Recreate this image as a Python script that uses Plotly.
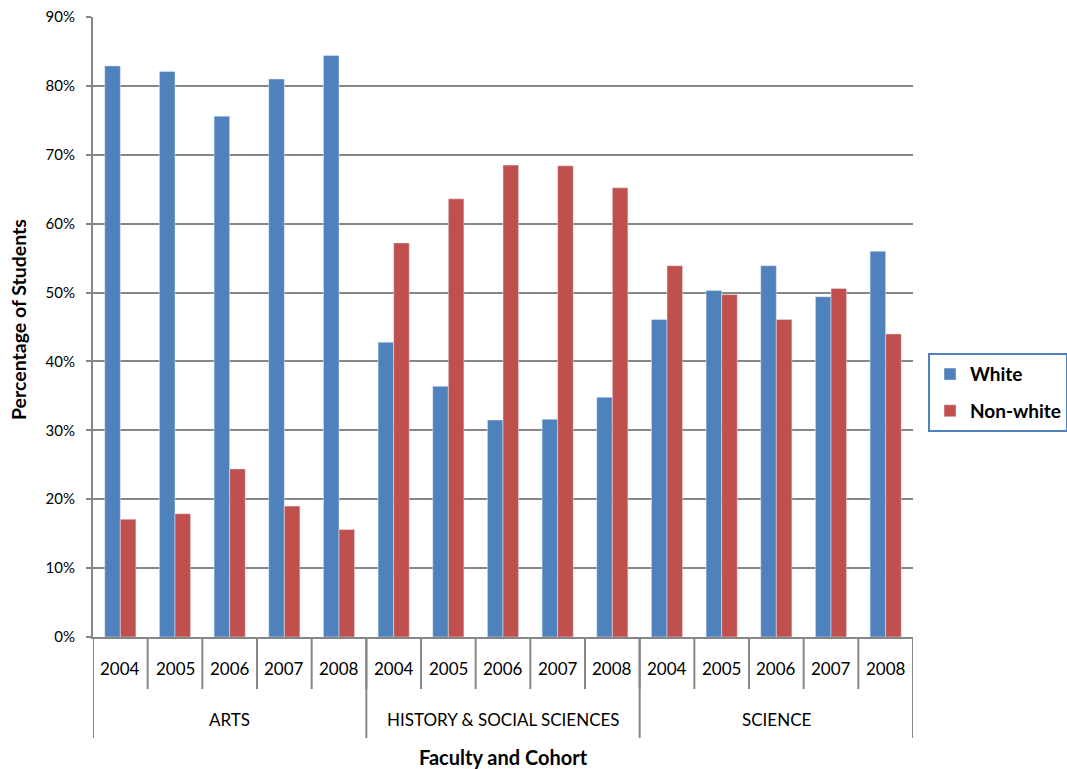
import plotly.graph_objects as go

faculties = ["ARTS", "HISTORY & SOCIAL SCIENCES", "SCIENCE"]
years = ["2004", "2005", "2006", "2007", "2008"]

white = [82.9, 82.1, 75.6, 81.0, 84.4,
         42.8, 36.4, 31.5, 31.6, 34.8,
         46.1, 50.3, 53.9, 49.4, 56.0]
non_white = [17.1, 17.9, 24.4, 19.0, 15.6,
             57.2, 63.6, 68.5, 68.4, 65.2,
             53.9, 49.7, 46.1, 50.6, 44.0]

n_years = len(years)
n_cats = len(faculties) * n_years
xpos = list(range(n_cats))

FONT = "Lato"
GRID = "#868686"
PLOT_W = 820  # plot-area width in px
PLOT_H = 620  # plot-area height in px, used to place the two-level axis below it

def below(px):
    return -px / PLOT_H

fig = go.Figure()
fig.add_trace(go.Bar(x=xpos, y=white, name="White", marker_color="#4F81BD",
                     legendgroup="w"))
fig.add_trace(go.Bar(x=xpos, y=non_white, name="Non-white", marker_color="#C0504D",
                     legendgroup="n"))

fig.update_layout(
    width=1067, height=769,
    margin=dict(l=93, r=154, t=17, b=132, autoexpand=False),
    paper_bgcolor="white", plot_bgcolor="white",
    barmode="group", bargap=0.43, bargroupgap=0,
    font=dict(family=FONT, size=15, color="black"),
    legend=dict(
        x=(928 - 93) / PLOT_W, y=0.394, xanchor="left", yanchor="middle",
        bordercolor="#4F81BD", borderwidth=2,
        font=dict(family=FONT, size=19, color="black", weight="bold"),
        itemwidth=30, traceorder="grouped", tracegroupgap=9,
    ),
    showlegend=True,
)

fig.update_yaxes(
    range=[0, 90], dtick=10, ticksuffix="%",
    showgrid=True, gridcolor=GRID, gridwidth=2,
    showline=True, linecolor=GRID, linewidth=2,
    ticks="outside", ticklen=5, tickcolor=GRID, tickwidth=2,
    tickfont=dict(family=FONT, size=15),
    ticklabelstandoff=8,
    zeroline=False,
)
fig.update_xaxes(
    range=[-0.5, n_cats - 0.5],
    showticklabels=False, ticks="",
    showline=True, linecolor=GRID, linewidth=2,
    showgrid=False, zeroline=False,
)

# inner level: cohort year cells with separators
for i, yr in enumerate(years * len(faculties)):
    fig.add_annotation(
        text=yr, x=xpos[i], xref="x", y=below(31), yref="paper",
        xanchor="center", yanchor="middle",
        showarrow=False, font=dict(family=FONT, size=17, color="black"),
    )
for b in range(n_cats + 1):
    fig.add_shape(
        type="line", xref="x", yref="paper",
        x0=b - 0.5, x1=b - 0.5, y0=0, y1=below(52),
        line=dict(color=GRID, width=2),
    )

# outer level: faculty groups with longer separators
for g, fac in enumerate(faculties):
    centre = g * n_years + (n_years - 1) / 2
    fig.add_annotation(
        text=fac, x=centre, xref="x", y=below(82), yref="paper",
        xanchor="center", yanchor="middle",
        showarrow=False, font=dict(family=FONT, size=17, color="black"),
    )
for g in range(len(faculties) + 1):
    xb = g * n_years - 0.5
    fig.add_shape(
        type="line", xref="x", yref="paper",
        x0=xb, x1=xb, y0=0, y1=below(101),
        line=dict(color=GRID, width=2),
    )

fig.add_annotation(
    text="Percentage of Students", xref="paper", yref="paper",
    x=(18 - 93) / PLOT_W, y=(637 - 320) / PLOT_H, textangle=-90, showarrow=False,
    xanchor="center", yanchor="middle",
    font=dict(family=FONT, size=19.5, color="black", weight="bold"),
)
fig.add_annotation(
    text="Faculty and Cohort", xref="paper", yref="paper",
    x=(503 - 93) / PLOT_W, y=below(120), showarrow=False,
    xanchor="center", yanchor="middle",
    font=dict(family=FONT, size=20, color="black", weight="bold"),
)

fig.write_html("out.html")
